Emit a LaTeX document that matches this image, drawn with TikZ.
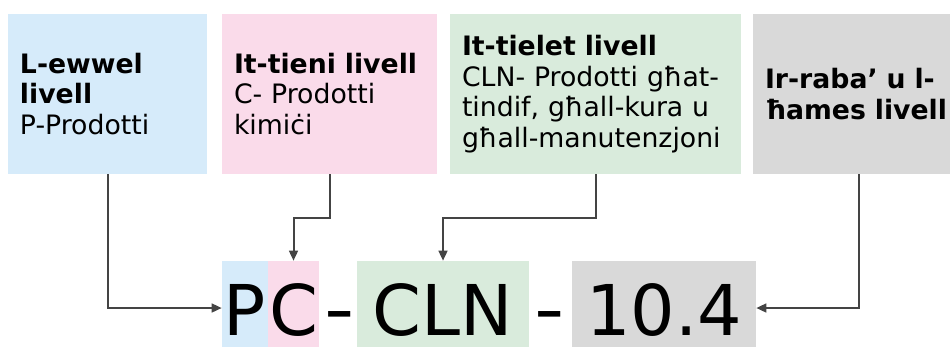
\documentclass[tikz,border=0pt]{standalone}
\usepackage{fontspec}
\setmainfont{DejaVu Sans}
\usetikzlibrary{arrows.meta}

\definecolor{BlueFill}{HTML}{D6EBFA}
\definecolor{PinkFill}{HTML}{FADBEA}
\definecolor{GreenFill}{HTML}{D9EBDC}
\definecolor{GreyFill}{HTML}{D9D9D9}
\definecolor{LineGrey}{HTML}{444444}

\begin{document}
\begin{tikzpicture}[x=0.25mm,y=-0.25mm]
	  \useasboundingbox (0,0) rectangle (950,349);
	  \clip (0,0) rectangle (950,349);
	  \tikzset{LevelStyle/.style = {rectangle,
	  								  inner sep      = 3mm,
	                                 minimum height = 40mm,
	                                 align          = left,
	                                 font           = \fontsize{19pt}{21.7pt}\selectfont}}

	  \tikzset{CodeStyle/.style = {rectangle,
	  								  inner sep      = 0pt,
	                                 minimum height = 21.5mm,
	                                 text height    = 15.5mm,
	                                 text depth     = 0pt,
	                                 font           = \fontsize{49.8pt}{50pt}\selectfont}}

	  \tikzset{EdgeStyle/.style   = {draw=LineGrey,
	                                 line width = 0.5mm,
	                                 -{Triangle[length=2.5mm,width=2.2mm]}}}

	     \node[LevelStyle,fill=BlueFill,text width=43.75mm](Lvl_1) at (107.5,94)
	          {\textbf{L-ewwel}\\ \textbf{livell}\\ P-Prodotti};
	     \node[LevelStyle,fill=PinkFill,text width=47.75mm](Lvl_2) at (329.5,94)
	          {\textbf{It-tieni livell}\\ C- Prodotti\\ kimiċi};
	     \node[LevelStyle,fill=GreenFill,text width=66.75mm](Lvl_3) at (595.5,94)
	          {\textbf{It-tielet livell}\\ CLN- Prodotti għat-\\ tindif, għall-kura u\\ għall-manutenzjoni};
	     \node[LevelStyle,fill=GreyFill,text width=47mm](Lvl_4) at (859,94)
	          {\textbf{Ir-raba’ u l-}\\ \textbf{ħames livell}};

	     \node[CodeStyle,fill=BlueFill,minimum width=11.5mm](Code_P) at (245,304) {P};
	     \node[CodeStyle,fill=PinkFill,minimum width=12.75mm](Code_C) at (293.5,304) {C};
	     \node[CodeStyle](Sep_1) at (339.5,304) {\raisebox{0.5mm}{\scalebox{1.2}[1]{-}}};
	     \node[CodeStyle,fill=GreenFill,minimum width=43mm](Code_CLN) at (443,304) {CLN};
	     \node[CodeStyle](Sep_2) at (549.5,304) {\raisebox{0.5mm}{\scalebox{1.2}[1]{-}}};
	     \node[CodeStyle,fill=GreyFill,minimum width=46mm](Code_Num) at (664,304) {10.4};

	     \draw[EdgeStyle](Lvl_1.south) |- ([yshift=-1mm]Code_P.west);
	     \draw[EdgeStyle](Lvl_2.south) -- ++(0,44) -| (Code_C.north);
	     \draw[EdgeStyle](Lvl_3.south) -- ++(0,44) -| (Code_CLN.north);
	     \draw[EdgeStyle](Lvl_4.south) |- ([yshift=-1mm]Code_Num.east);

	  \end{tikzpicture}
\end{document}
